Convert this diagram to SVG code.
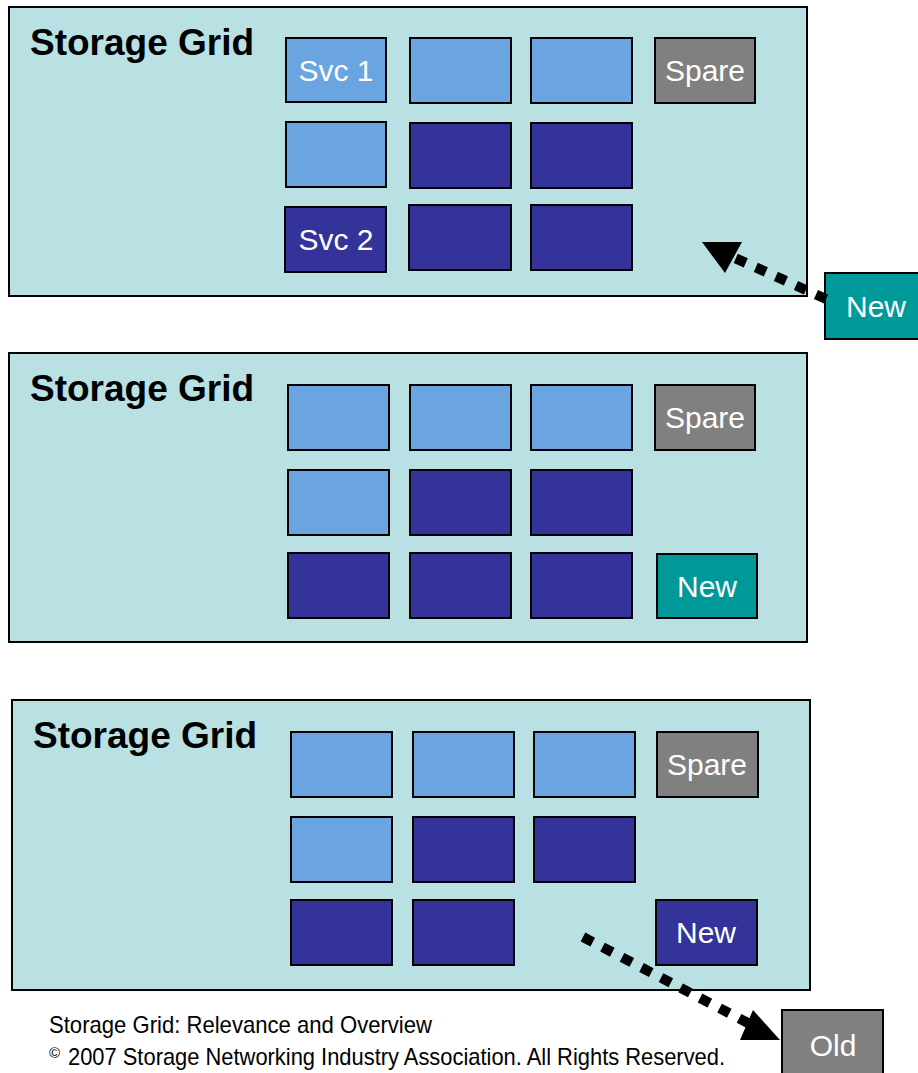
<svg xmlns="http://www.w3.org/2000/svg" width="918" height="1073" viewBox="0 0 918 1073">
<style>
.panel{fill:#B9E0E3;stroke:#000;stroke-width:2}
.lb{fill:#6AA4E1;stroke:#000;stroke-width:2}
.nv{fill:#333399;stroke:#000;stroke-width:2}
.gr{fill:#808080;stroke:#000;stroke-width:2}
.tl{fill:#009999;stroke:#000;stroke-width:2}
.title{font-family:"Liberation Sans",Arial,sans-serif;font-weight:bold;font-size:37px;fill:#000}
.lbl{font-family:"Liberation Sans",Arial,sans-serif;font-size:30px;fill:#fff;text-anchor:middle}
.foot{font-family:"Liberation Sans",Arial,sans-serif;font-size:24px;fill:#000}
.dots{fill:none;stroke:#000;stroke-width:10;stroke-dasharray:11 11}
</style>
<g id="grid1">
<rect class="panel" x="9" y="7" width="798" height="289"/>
<text class="title" x="30" y="55">Storage Grid</text>
</g>
<g id="g1-svc1"><rect class="lb" x="286" y="38" width="100" height="64"/><text class="lbl" x="336" y="81">Svc 1</text></g>
<g id="g1-b2"><rect class="lb" x="410" y="38" width="101" height="65"/></g>
<g id="g1-b3"><rect class="lb" x="531" y="38" width="101" height="65"/></g>
<g id="g1-spare"><rect class="gr" x="655" y="38" width="100" height="65"/><text class="lbl" x="705" y="81">Spare</text></g>
<g id="g1-b5"><rect class="lb" x="286" y="122" width="100" height="65"/></g>
<g id="g1-b6"><rect class="nv" x="410" y="123" width="101" height="65"/></g>
<g id="g1-b7"><rect class="nv" x="531" y="123" width="101" height="65"/></g>
<g id="g1-svc2"><rect class="nv" x="285" y="207" width="101" height="65"/><text class="lbl" x="336" y="250">Svc 2</text></g>
<g id="g1-b9"><rect class="nv" x="409" y="205" width="102" height="65"/></g>
<g id="g1-b10"><rect class="nv" x="531" y="205" width="101" height="65"/></g>
<g id="new-top"><rect class="tl" x="825" y="273" width="95" height="66"/><text class="lbl" x="876" y="317">New</text></g>

<g id="grid2">
<rect class="panel" x="9" y="353" width="798" height="289"/>
<text class="title" x="30" y="401">Storage Grid</text>
</g>
<g id="g2-b1"><rect class="lb" x="288" y="385" width="101" height="65"/></g>
<g id="g2-b2"><rect class="lb" x="410" y="385" width="101" height="65"/></g>
<g id="g2-b3"><rect class="lb" x="531" y="385" width="101" height="65"/></g>
<g id="g2-spare"><rect class="gr" x="655" y="385" width="100" height="65"/><text class="lbl" x="705" y="428">Spare</text></g>
<g id="g2-b5"><rect class="lb" x="288" y="470" width="101" height="65"/></g>
<g id="g2-b6"><rect class="nv" x="410" y="470" width="101" height="65"/></g>
<g id="g2-b7"><rect class="nv" x="531" y="470" width="101" height="65"/></g>
<g id="g2-b8"><rect class="nv" x="288" y="553" width="101" height="65"/></g>
<g id="g2-b9"><rect class="nv" x="410" y="553" width="101" height="65"/></g>
<g id="g2-b10"><rect class="nv" x="531" y="553" width="101" height="65"/></g>
<g id="g2-new"><rect class="tl" x="657" y="554" width="100" height="64"/><text class="lbl" x="707" y="597">New</text></g>

<g id="grid3">
<rect class="panel" x="12" y="700" width="798" height="290"/>
<text class="title" x="33" y="748">Storage Grid</text>
</g>
<g id="g3-b1"><rect class="lb" x="291" y="732" width="101" height="65"/></g>
<g id="g3-b2"><rect class="lb" x="413" y="732" width="101" height="65"/></g>
<g id="g3-b3"><rect class="lb" x="534" y="732" width="101" height="65"/></g>
<g id="g3-spare"><rect class="gr" x="657" y="732" width="101" height="65"/><text class="lbl" x="707" y="775">Spare</text></g>
<g id="g3-b5"><rect class="lb" x="291" y="817" width="101" height="65"/></g>
<g id="g3-b6"><rect class="nv" x="413" y="817" width="101" height="65"/></g>
<g id="g3-b7"><rect class="nv" x="534" y="817" width="101" height="65"/></g>
<g id="g3-b8"><rect class="nv" x="291" y="900" width="101" height="65"/></g>
<g id="g3-b9"><rect class="nv" x="413" y="900" width="101" height="65"/></g>
<g id="g3-new"><rect class="nv" x="656" y="900" width="101" height="65"/><text class="lbl" x="706" y="943">New</text></g>
<g id="old"><rect class="gr" x="782" y="1010" width="101" height="70"/><text class="lbl" x="833" y="1056">Old</text></g>

<g id="connectors">
<path class="dots" d="M826,299 L735,258"/>
<polygon points="702,242 742,242 725,273" fill="#000"/>
<path class="dots" d="M583,937 L748,1023"/>
<polygon points="780,1040 753,1010 740,1040" fill="#000"/>
</g>

<g id="footer">
<text class="foot" x="49" y="1033" textLength="383" lengthAdjust="spacingAndGlyphs">Storage Grid:  Relevance and Overview</text>
<text class="foot" x="49" y="1058" style="font-size:15px">©</text>
<text class="foot" x="68" y="1065" textLength="657" lengthAdjust="spacingAndGlyphs">2007 Storage Networking Industry Association. All Rights Reserved.</text>
</g>
</svg>
